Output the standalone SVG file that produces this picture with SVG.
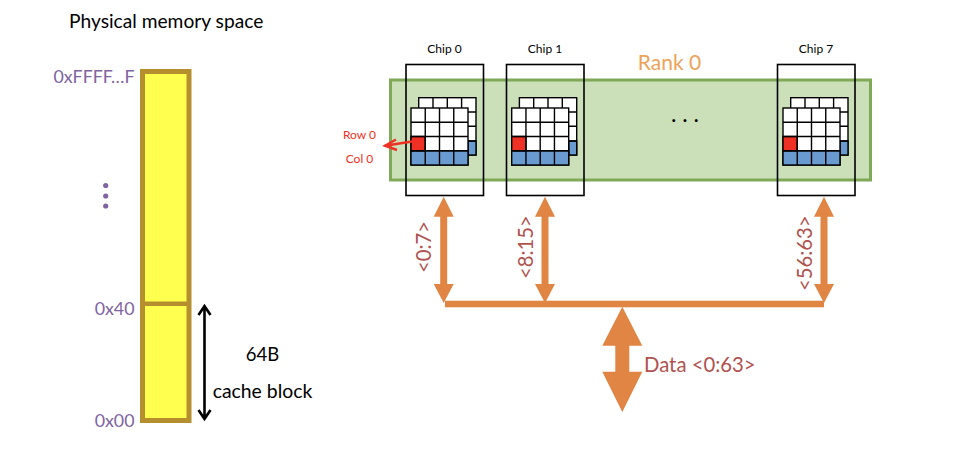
<svg xmlns="http://www.w3.org/2000/svg" xmlns:xlink="http://www.w3.org/1999/xlink" width="970" height="468" viewBox="0 0 970 468">
<style>
text{font-family:"Lato","Open Sans","Liberation Sans",sans-serif}
.blk{fill:#000}
.pur{fill:#8064a2;font-size:17.8px;text-anchor:end}
.red{fill:#ee3124;font-size:12px;text-anchor:middle}
.brn{fill:#b0524f;font-size:20.3px}
.chipl{fill:#000;font-size:12px;text-anchor:middle}
.c{stroke:#000;stroke-width:1.4}
.w{fill:#fff}.b{fill:#6a9bd0}.r{fill:#ee3124}
.arr{fill:#e08543}
</style>
<defs>
<g id="grid">
<g class="c">
<rect class="w" x="7.7" y="-10.3" width="57.3" height="57.3"/>
<rect class="b" x="57" y="33" width="8" height="14"/>
<path d="M22 -10.3V0M36.3 -10.3V0M50.6 -10.3V0M57 4H65M57 18.3H65M57 33H65" fill="none"/>
<rect class="w" x="0" y="0" width="57" height="57"/>
<rect class="b" x="0" y="42.75" width="57" height="14.25"/>
<rect class="r" x="0" y="28.5" width="14.25" height="14.25"/>
<path d="M14.25 0V57M28.5 0V57M42.75 0V57M0 14.25H57M0 28.5H57M0 42.75H57" fill="none"/>
</g>
</g>
</defs>
<g id="memory">
<rect x="142.5" y="71.5" width="46.5" height="349" fill="#ffff4f" stroke="#b58f2e" stroke-width="5"/>
<line x1="142" y1="303.7" x2="190" y2="303.7" stroke="#b58f2e" stroke-width="4.5"/>
<text x="69" y="27.5" class="blk" font-size="19.2">Physical memory space</text>
<text x="134.500" y="83" class="pur">0xFFFF…F</text>
<text x="134.500" y="315" class="pur">0x40</text>
<text x="134.500" y="427" class="pur">0x00</text>
<circle cx="105.700" cy="185.500" r="2.600" fill="#8064a2"/>
<circle cx="105.700" cy="196" r="2.600" fill="#8064a2"/>
<circle cx="105.700" cy="206" r="2.600" fill="#8064a2"/>
<text x="262.500" y="361" class="blk" font-size="18.500" text-anchor="middle">64B</text>
<text x="262.500" y="398" class="blk" font-size="19.400" text-anchor="middle">cache block</text>
</g>
<g id="rank">
<rect x="390.500" y="80" width="480" height="100" fill="#cbdfb8" stroke="#7fa957" stroke-width="3"/>
<text x="669.500" y="70" fill="#eda25a" font-size="21" text-anchor="middle">Rank 0</text>
<text x="685" y="121.500" fill="#000" font-size="23" text-anchor="middle">. . .</text>
</g>
<g id="chip0">
<rect x="406" y="64.500" width="77.500" height="131" fill="none" stroke="#000" stroke-width="1.600"/>
<text x="444.500" y="53" class="chipl">Chip 0</text>
<use xlink:href="#grid" href="#grid" x="411" y="108"/>
</g>
<g id="chip1">
<rect x="506.500" y="64.500" width="77.500" height="131" fill="none" stroke="#000" stroke-width="1.600"/>
<text x="545" y="53" class="chipl">Chip 1</text>
<use xlink:href="#grid" href="#grid" x="511.700" y="108"/>
</g>
<g id="chip7">
<rect x="777.500" y="64.500" width="77.500" height="131" fill="none" stroke="#000" stroke-width="1.600"/>
<text x="816" y="53" class="chipl">Chip 7</text>
<use xlink:href="#grid" href="#grid" x="783" y="108"/>
</g>
<g id="labels">
<text x="359.500" y="139" class="red">Row 0</text>
<text x="359.500" y="163" class="red">Col 0</text>
<text transform="translate(431,273) rotate(-90)" class="brn">&lt;0:7&gt;</text>
<text transform="translate(533,279) rotate(-90)" class="brn">&lt;8:15&gt;</text>
<text transform="translate(812,291) rotate(-90)" class="brn">&lt;56:63&gt;</text>
<text x="644" y="372" class="brn">Data &lt;0:63&gt;</text>
</g>
<g id="connectors">
<path d="M412 141.500L385 145.700" stroke="#ee3124" stroke-width="2.400" fill="none"/>
<path d="M396 139.500L385 145.700L397 150" stroke="#ee3124" stroke-width="2.400" fill="none"/>
<path d="M204.500 306V419M198.500 315L204.500 306L210.500 315M198.500 410L204.500 419L210.500 410" stroke="#000" stroke-width="2.600" fill="none"/>
<rect class="arr" x="445" y="300.700" width="379" height="6.600"/>
<polygon class="arr" points="443.700,196.700 453.700,216.700 447.200,216.700 447.200,284 453.700,284 443.700,303 433.700,284 440.200,284 440.200,216.700 433.700,216.700"/>
<polygon class="arr" points="545,196.700 555,216.700 548.500,216.700 548.500,284 555,284 545,303 535,284 541.500,284 541.500,216.700 535,216.700"/>
<polygon class="arr" points="824,196.700 834,216.700 827.500,216.700 827.500,284 834,284 824,303 814,284 820.500,284 820.500,216.700 814,216.700"/>
<polygon class="arr" points="622.300,306.700 642.300,345.700 629.300,345.700 629.300,371.700 642.300,371.700 622.300,412 602.300,371.700 615.300,371.700 615.300,345.700 602.300,345.700"/>
</g>
</svg>
